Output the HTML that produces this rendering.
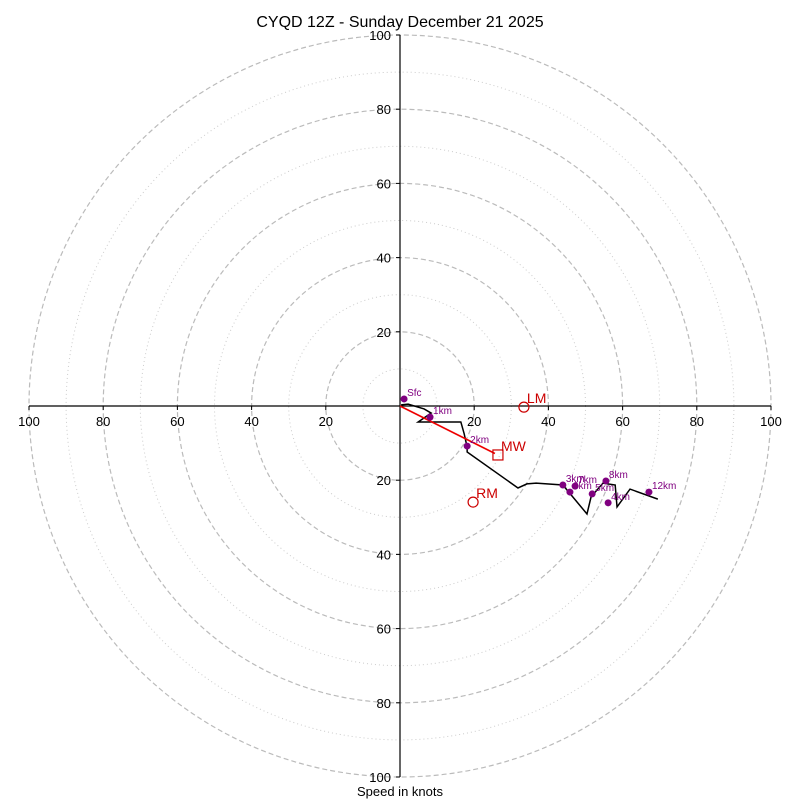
<!DOCTYPE html>
<html><head><meta charset="utf-8"><style>
body{margin:0;background:#fff}
svg{display:block;font-family:"Liberation Sans","DejaVu Sans",sans-serif}
</style></head><body>
<svg id="c" width="800" height="800" viewBox="0 0 800 800">
<text x="400" y="27" text-anchor="middle" font-size="16">CYQD 12Z - Sunday December 21 2025</text>
<text x="400" y="796" text-anchor="middle" font-size="13">Speed in knots</text>
<g id="g"></g>
</svg>
<script>
const ringMajor=[20,40,60,80,100];
const ringMinor=[10,30,50,70,90];
const tickVals=[-100,-80,-60,-40,-20,20,40,60,80,100];
const pathU=[0.3,2.2,6.5,8.4,4.9,16.4,17.3,18.1,18.1,31.8,34.2,36.7,43.9,50.4,51.5,54.7,58.0,58.5,62.0,69.5];
const pathV=[0.3,0.5,-0.8,-1.9,-4.3,-4.3,-7.5,-11.1,-12.4,-22.1,-21.0,-20.8,-21.3,-29.1,-24.5,-20.8,-21.3,-27.2,-22.4,-25.1];
const dotLabels=["Sfc","1km","2km","3km","4km","5km","6km","7km","8km","12km"];
const dotU=[1.1,8.1,18.1,43.9,56.1,51.8,45.8,47.2,55.5,67.1];
const dotV=[1.9,-3.0,-10.8,-21.3,-26.1,-23.7,-23.2,-21.6,-20.2,-23.2];
const motionNames=["LM","MW","RM"];
const motionU=[33.4,26.4,19.7];
const motionV=[-0.3,-13.2,-25.9];

const cx=400,cy=406,k=3.71;
const X=u=>cx+u*k, Y=v=>cy-v*k;
const g=document.getElementById('g');
const NS="http://www.w3.org/2000/svg";
function mk(t,a){const e=document.createElementNS(NS,t);for(const n in a)e.setAttribute(n,a[n]);g.appendChild(e);return e;}

ringMinor.forEach(r=>{const e=mk('circle',{cx:cx,cy:cy,r:r*k,fill:'none',stroke:'#ccc','stroke-width':1,'stroke-dasharray':'1,3'});

});
ringMajor.forEach(r=>{const e=mk('circle',{cx:cx,cy:cy,r:r*k,fill:'none',stroke:'#bbb','stroke-width':1.2,'stroke-dasharray':'5,3'});

});

let e=mk('line',{x1:X(-100),y1:cy,x2:X(100),y2:cy,stroke:'#000','stroke-width':1.2});


e=mk('line',{x1:cx,y1:Y(100),x2:cx,y2:Y(-100),stroke:'#000','stroke-width':1.2});



tickVals.forEach(t=>{
 mk('line',{x1:X(t),y1:cy,x2:X(t),y2:cy+4,stroke:'#000'});
 let l=mk('text',{x:X(t),y:cy+20,'text-anchor':'middle','font-size':13});l.textContent=Math.abs(t);
 
 
 mk('line',{x1:cx-4,y1:Y(t),x2:cx,y2:Y(t),stroke:'#000'});
 l=mk('text',{x:cx-9,y:Y(t)+5,'text-anchor':'end','font-size':13});l.textContent=Math.abs(t);
 
 
});

e=mk('polyline',{points:pathU.map((u,i)=>X(u)+','+Y(pathV[i])).join(' '),fill:'none',stroke:'#000','stroke-width':1.5});



// mean wind arrow
e=mk('line',{x1:cx,y1:cy,x2:X(motionU[1])-3,y2:Y(motionV[1])-1.5,stroke:'#e00','stroke-width':1.6});



dotLabels.forEach((n,i)=>{
 const d=mk('circle',{cx:X(dotU[i]),cy:Y(dotV[i]),r:3.5,fill:'#800080'});
 
 
 const t=mk('text',{x:X(dotU[i])+3,y:Y(dotV[i])-3,'font-size':10,fill:'#800080'});t.textContent=n;
 
 
});

motionNames.forEach((n,i)=>{
 const x=X(motionU[i]),y=Y(motionV[i]);
 const m= n==='MW'? mk('rect',{x:x-5,y:y-5,width:10,height:10,fill:'none',stroke:'#c00','stroke-width':1.2})
  : mk('circle',{cx:x,cy:y,r:5,fill:'none',stroke:'#c00','stroke-width':1.2});
 
 
 const t=mk('text',{x:x+3,y:y-4,'font-size':14,fill:'#c00'});t.textContent=n;
 
 
});
</script>
</body></html>
